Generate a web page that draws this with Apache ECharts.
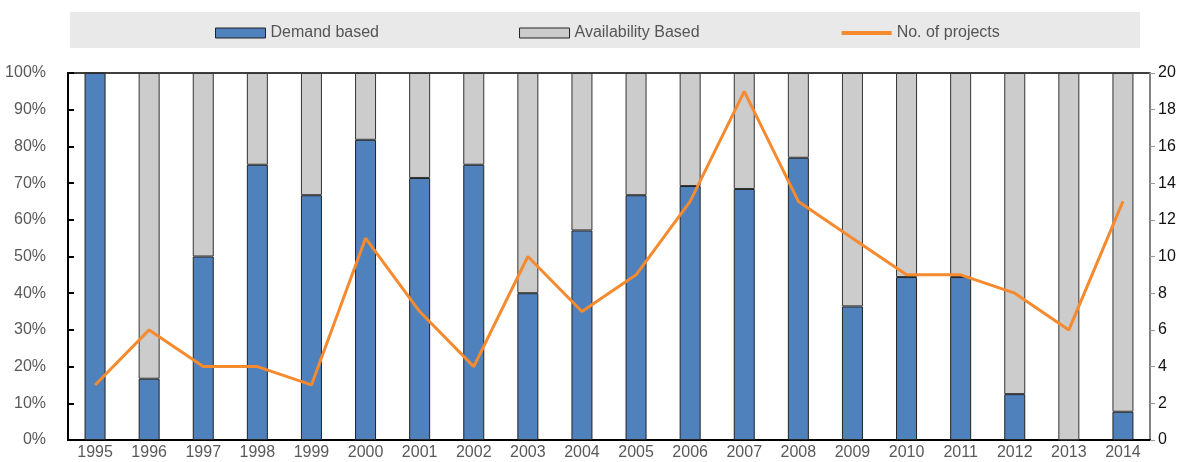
<!DOCTYPE html>
<html>
<head>
<meta charset="utf-8">
<script src="https://cdn.jsdelivr.net/npm/echarts@6/dist/echarts.min.js"></script>
<style>html,body{margin:0;padding:0;background:#fff}#c{width:1187px;height:462px}</style>
</head>
<body>
<div id="c"></div>
<script>
const years = ['1995','1996','1997','1998','1999','2000','2001','2002','2003','2004','2005','2006','2007','2008','2009','2010','2011','2012','2013','2014'];
const demandBased = [100, 16.7, 50, 75, 66.7, 81.8, 71.4, 75, 40, 57.1, 66.7, 69.2, 68.4, 76.9, 36.4, 44.4, 44.4, 12.5, 0, 7.7];
const availabilityBased = [0, 83.3, 50, 25, 33.3, 18.2, 28.6, 25, 60, 42.9, 33.3, 30.8, 31.6, 23.1, 63.6, 55.6, 55.6, 87.5, 100, 92.3];
const projects = [3, 6, 4, 4, 3, 11, 7, 4, 10, 7, 9, 13, 19, 13, 11, 9, 9, 8, 6, 13];

const chart = echarts.init(document.getElementById('c'), null, {renderer: 'canvas'});
const font = '"Liberation Sans", Arial, sans-serif';
chart.setOption({
  animation: false,
  textStyle: {fontFamily: font},
  graphic: [{
    type: 'rect', left: 70, top: 12, z: -10,
    shape: {width: 1070, height: 36},
    style: {fill: '#E9E9E9'}
  }],
  legend: {
    left: 210, top: 20,
    itemWidth: 50, itemHeight: 10, itemGap: 140,
    textStyle: {fontSize: 16, color: '#555', fontFamily: font},
    data: [
      {name: 'Demand based', icon: 'rect', itemStyle: {borderColor: '#222', borderWidth: 1}},
      {name: 'Availability Based', icon: 'rect', itemStyle: {borderColor: '#222', borderWidth: 1}},
      {name: 'No. of projects', itemStyle: {opacity: 0}, lineStyle: {width: 4, color: '#F58A2E'}}
    ]
  },
  grid: {left: 68, right: 37, top: 73, bottom: 22, show: true, borderColor: '#000', borderWidth: 1.5, containLabel: false},
  xAxis: {
    type: 'category', data: years,
    axisLine: {lineStyle: {color: '#000', width: 2}},
    axisTick: {inside: true, length: 6, lineStyle: {color: '#000', width: 2}},
    axisLabel: {fontSize: 16, color: '#595959', margin: 5, fontFamily: font}
  },
  yAxis: [{
    type: 'value', min: 0, max: 100, interval: 10,
    axisLine: {show: true, lineStyle: {color: '#000', width: 2}},
    axisTick: {show: true, inside: true, length: 6, lineStyle: {color: '#000', width: 2}},
    axisLabel: {formatter: '{value}%', fontSize: 16, color: '#595959', margin: 22, fontFamily: font},
    splitLine: {show: false}
  }, {
    type: 'value', min: 0, max: 20, interval: 2, position: 'right',
    axisLine: {show: true, lineStyle: {color: '#999', width: 1.5}},
    axisTick: {show: true, length: 5, lineStyle: {color: '#999'}},
    axisLabel: {fontSize: 16, color: '#111', margin: 8, fontFamily: font},
    splitLine: {show: false}
  }],
  series: [{
    name: 'Demand based', type: 'bar', stack: 's', data: demandBased, barWidth: 21,
    itemStyle: {color: '#4F81BD', borderColor: '#222', borderWidth: 1}
  }, {
    name: 'Availability Based', type: 'bar', stack: 's', data: availabilityBased, barWidth: 21,
    itemStyle: {color: '#CCCCCC', borderColor: '#333', borderWidth: 1}
  }, {
    name: 'No. of projects', type: 'line', yAxisIndex: 1, data: projects,
    symbol: 'none', lineStyle: {color: '#F58A2E', width: 3}, itemStyle: {color: '#F58A2E'}, z: 5
  }]
});
</script>
</body>
</html>
